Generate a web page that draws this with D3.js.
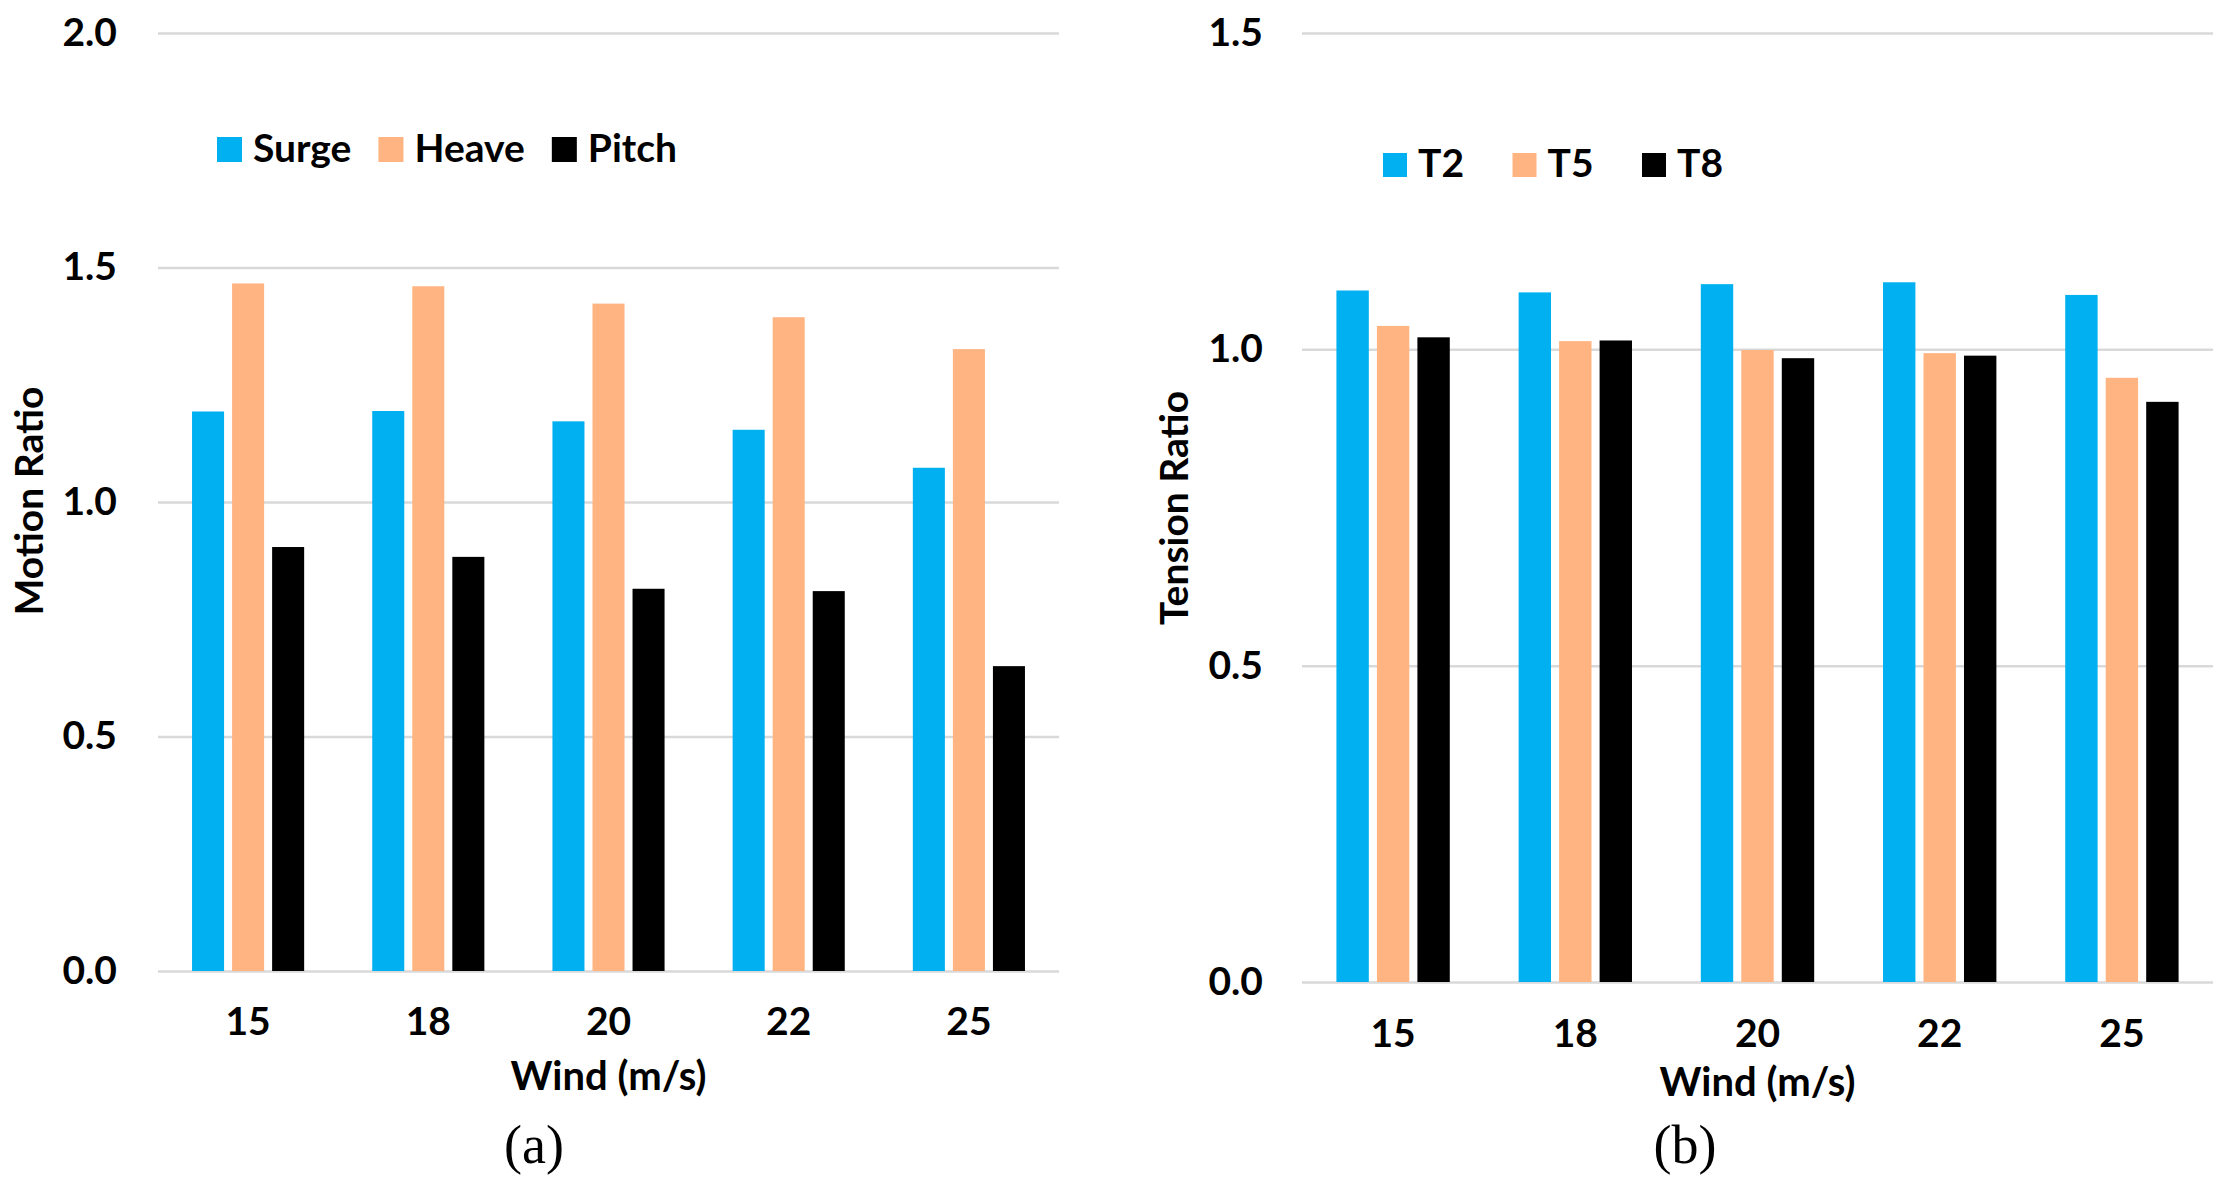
<!DOCTYPE html>
<html>
<head>
<meta charset="utf-8">
<script src="https://cdn.jsdelivr.net/npm/d3@7"></script>
<style>
    body { margin: 0; background: #fff; }
    .tick text, .legend-item text, .x-title, .y-title { font-family: Lato, "Open Sans", sans-serif; font-weight: bold; fill: #000; }
    .caption { font-family: "Liberation Serif", serif; fill: #000; }
</style>
</head>
<body>
<div id="figure"></div>
<script>
// Chart data
var windSpeeds = ["15", "18", "20", "22", "25"];

var motionKeys = ["Surge", "Heave", "Pitch"];
var surge = [1.193, 1.194, 1.172, 1.154, 1.073];
var heave = [1.466, 1.460, 1.423, 1.394, 1.326];
var pitch = [0.904, 0.883, 0.815, 0.810, 0.650];
var motionTicks = [0, 0.5, 1.0, 1.5, 2.0];

var tensionKeys = ["T2", "T5", "T8"];
var t2 = [1.093, 1.090, 1.103, 1.106, 1.086];
var t5 = [1.037, 1.013, 0.999, 0.994, 0.955];
var t8 = [1.019, 1.014, 0.986, 0.990, 0.917];
var tensionTicks = [0, 0.5, 1.0, 1.5];

var seriesColors = ["#00b0f0", "#ffb482", "#000000"];

// Appending the figure SVG
var svg = d3.select("#figure")
    .append("svg")
    .attr("width", 2227)
    .attr("height", 1185);

// Drawing one grouped bar panel
function drawPanel(opts) {
    var w = opts.right - opts.left;
    var h = opts.bottom - opts.top;

    var g = svg.append("g")
        .attr("transform", "translate(" + opts.left + "," + opts.top + ")");

    var yScale = d3.scaleLinear()
        .domain([0, d3.max(opts.ticks)])
        .range([h, 0]);

    var xScale0 = d3.scaleBand()
        .domain(windSpeeds)
        .range([0, w]);

    var xScale1 = d3.scaleBand()
        .domain(opts.keys)
        .range([0, xScale0.bandwidth()])
        .paddingInner(0.2)
        .paddingOuter(0.85);

    // Gridlines and y tick labels
    var yAxis = g.append("g")
        .attr("class", "y axis")
        .call(d3.axisLeft(yScale)
            .tickValues(opts.ticks)
            .tickSize(-w)
            .tickPadding(opts.yPad)
            .tickFormat(d3.format(".1f")));
    yAxis.select(".domain").remove();
    yAxis.selectAll(".tick line")
        .attr("stroke", "#d9d9d9")
        .attr("stroke-width", 2.5);
    yAxis.selectAll(".tick text")
        .attr("font-size", 39);

    // Grouped bars
    var rows = windSpeeds.map(function (c, i) {
        return { cat: c, values: opts.series.map(function (s) { return s[i]; }) };
    });

    g.append("g")
        .selectAll(".bar")
        .data(rows)
        .enter()
        .append("g")
        .attr("class", "bar")
        .attr("transform", function (d) { return "translate(" + xScale0(d.cat) + ",0)"; })
        .selectAll("rect")
        .data(function (d) { return d.values.map(function (v, j) { return { key: opts.keys[j], value: v, idx: j }; }); })
        .enter()
        .append("rect")
        .attr("x", function (d) { return xScale1(d.key); })
        .attr("width", xScale1.bandwidth())
        .attr("y", function (d) { return yScale(d.value); })
        .attr("height", function (d) { return h - yScale(d.value); })
        .attr("fill", function (d) { return seriesColors[d.idx]; });

    // X axis labels
    var xAxis = g.append("g")
        .attr("class", "x axis")
        .attr("transform", "translate(0," + h + ")")
        .call(d3.axisBottom(xScale0).tickSize(0).tickPadding(opts.xPad));
    xAxis.select(".domain").remove();
    xAxis.selectAll(".tick text").attr("font-size", 39);

    // X axis title
    g.append("text")
        .attr("class", "x-title")
        .attr("x", w / 2)
        .attr("y", opts.xTitleY - opts.top)
        .attr("text-anchor", "middle")
        .attr("font-size", 40)
        .text("Wind (m/s)");

    // Y axis title
    svg.append("text")
        .attr("class", "y-title")
        .attr("transform", "translate(" + opts.yTitleX + "," + opts.yTitleY + ") rotate(-90)")
        .attr("text-anchor", "middle")
        .attr("font-size", 39)
        .text(opts.yTitle);

    // Legend
    var lx = opts.legendX;
    opts.keys.forEach(function (k, j) {
        var item = svg.append("g")
            .attr("class", "legend-item")
            .attr("transform", "translate(" + lx + "," + opts.legendY + ")");
        item.append("rect")
            .attr("x", 0)
            .attr("y", -opts.legendBox)
            .attr("width", opts.legendBox)
            .attr("height", opts.legendBox)
            .attr("fill", seriesColors[j]);
        var t = item.append("text")
            .attr("x", opts.legendBox + 11)
            .attr("y", 0)
            .attr("font-size", 39)
            .text(k);
        if (opts.legendStep) {
            lx += opts.legendStep;
        } else {
            lx += opts.legendBox + 11 + t.node().getComputedTextLength() + 27;
        }
    });

    // Panel caption
    svg.append("text")
        .attr("class", "caption")
        .attr("x", opts.captionX)
        .attr("y", 1163)
        .attr("text-anchor", "middle")
        .attr("font-size", 54)
        .text(opts.caption);
}

drawPanel({
    left: 158, right: 1059, top: 33, bottom: 971,
    keys: motionKeys, series: [surge, heave, pitch], ticks: motionTicks,
    yPad: 41, xPad: 36, xTitleY: 1090,
    yTitle: "Motion Ratio", yTitleX: 43, yTitleY: 501,
    legendX: 217, legendY: 162, legendBox: 25, legendStep: null,
    captionX: 534, caption: "(a)"
});

drawPanel({
    left: 1302, right: 2213, top: 33, bottom: 982,
    keys: tensionKeys, series: [t2, t5, t8], ticks: tensionTicks,
    yPad: 39, xPad: 37, xTitleY: 1096,
    yTitle: "Tension Ratio", yTitleX: 1188, yTitleY: 508,
    legendX: 1383, legendY: 177, legendBox: 24, legendStep: 129.5,
    captionX: 1685, caption: "(b)"
});
</script>
</body>
</html>
